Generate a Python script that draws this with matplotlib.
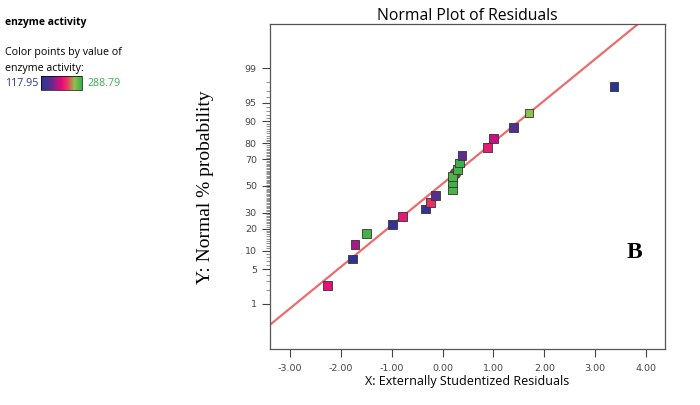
import numpy as np
import matplotlib
matplotlib.use("Agg")
import matplotlib.pyplot as plt
from matplotlib.colors import LinearSegmentedColormap, Normalize
from matplotlib.cm import ScalarMappable
from statistics import NormalDist

# residuals (x) and normal % probability (y)
resid = [-2.26, -1.77, -1.72, -1.49, -0.98, -0.79, -0.33, -0.23, -0.14, 0.20,
         0.20, 0.20, 0.30, 0.34, 0.38, 0.89, 1.00, 1.39, 1.70, 3.37]
prob = [2.5, 7.5, 12.5, 17.5, 22.5, 27.5, 32.5, 37.5, 42.5, 47.5,
        52.5, 57.5, 62.5, 67.5, 72.5, 77.5, 82.5, 87.5, 92.5, 97.5]
activity = [206.79, 121.37, 182.87, 283.66, 123.08, 211.91, 124.78, 223.87, 155.53, 281.96,
            285.37, 280.25, 283.66, 287.08, 158.95, 213.62, 194.83, 152.12, 258.04, 117.95]
act_min, act_max = 117.95, 288.79

# hidden marker behind the green cluster
blob_x = [0.25]
blob_p = [60.1]

# reference line end points
line_x = [-3.39, 3.84]
line_p = [0.31, 99.93]

prob_ticks = [1, 5, 10, 20, 30, 50, 70, 80, 90, 95, 99]
x_ticks = [-3, -2, -1, 0, 1, 2, 3, 4]

nd = NormalDist()
fwd = np.vectorize(lambda p: nd.inv_cdf(min(max(p / 100.0, 1e-9), 1 - 1e-9)))
inv = np.vectorize(lambda z: nd.cdf(z) * 100.0)

cmap = LinearSegmentedColormap.from_list(
    "de", [(0.0, "#2b3592"), (0.25, "#5e2c8e"), (0.5, "#e4097c"),
           (0.65, "#ea3a5e"), (0.82, "#8cc04a"), (1.0, "#39ae48")])
norm = Normalize(act_min, act_max)

fig = plt.figure(figsize=(7, 4.05), dpi=100)
ax = fig.add_axes([270 / 700, 1 - 349 / 405, 395 / 700, 325 / 405])
ax.set_yscale("function", functions=(fwd, inv))
ax.set_xlim(-3.39, 4.37)
ax.set_ylim(inv(-3.215), inv(3.195))

ax.plot(line_x, line_p, color="#ea6d6e", lw=1.6, zorder=2)
ax.scatter(blob_x, blob_p, marker="o", s=60, color="#9a3a45", edgecolor="#333333",
           linewidth=0.5, zorder=3)
ax.scatter(resid, prob, c=activity, cmap=cmap, norm=norm, marker="s", s=40,
           edgecolor="#333333", linewidth=0.6, zorder=4)

ax.set_xticks(x_ticks)
ax.set_xticklabels(["%.2f" % v for v in x_ticks])
ax.set_yticks(prob_ticks)
ax.set_yticklabels([str(v) for v in prob_ticks])
ax.set_yticks(list(range(1, 100)), minor=True)
ax.tick_params(axis="both", labelsize=6.8, colors="#444444", length=6, width=0.8)
ax.tick_params(axis="y", which="minor", length=3, width=0.5, colors="#666666")
ax.tick_params(axis="x", pad=5)
for s in ax.spines.values():
    s.set_color("#555555")
    s.set_linewidth(0.9)

ax.set_title("Normal Plot of Residuals", fontsize=11.3, family="Open Sans", pad=3)
ax.set_xlabel("X: Externally Studentized Residuals", fontsize=9, family="Open Sans", labelpad=1)
fig.text(205 / 700, 1 - 187 / 405, "Y: Normal % probability", rotation=90,
         ha="center", va="center", fontsize=14, family="Liberation Serif")
fig.text(634 / 700, 1 - 252 / 405, "B", ha="center", va="center", fontsize=17,
         fontweight="bold", family="Liberation Serif")

# colour legend on the left
fig.text(5 / 700, 1 - 22 / 405, "enzyme activity", fontsize=7.5, fontweight="bold",
         family="Open Sans", va="center")
fig.text(5 / 700, 1 - 53 / 405, "Color points by value of", fontsize=7.7,
         family="Open Sans", va="center")
fig.text(5 / 700, 1 - 69 / 405, "enzyme activity:", fontsize=7.7,
         family="Open Sans", va="center")
fig.text(5 / 700, 1 - 83 / 405, "%.2f" % act_min, fontsize=7.7, color="#2b3592",
         family="Open Sans", va="center")
fig.text(87 / 700, 1 - 83 / 405, "%.2f" % act_max, fontsize=7.7, color="#39ae48",
         family="Open Sans", va="center")
cax = fig.add_axes([41 / 700, 1 - 90 / 405, 41 / 700, 14 / 405])
cb = fig.colorbar(ScalarMappable(norm=norm, cmap=cmap), cax=cax, orientation="horizontal")
cb.set_ticks([])
cb.outline.set_linewidth(0.5)

fig.savefig("out.png", dpi=100)
